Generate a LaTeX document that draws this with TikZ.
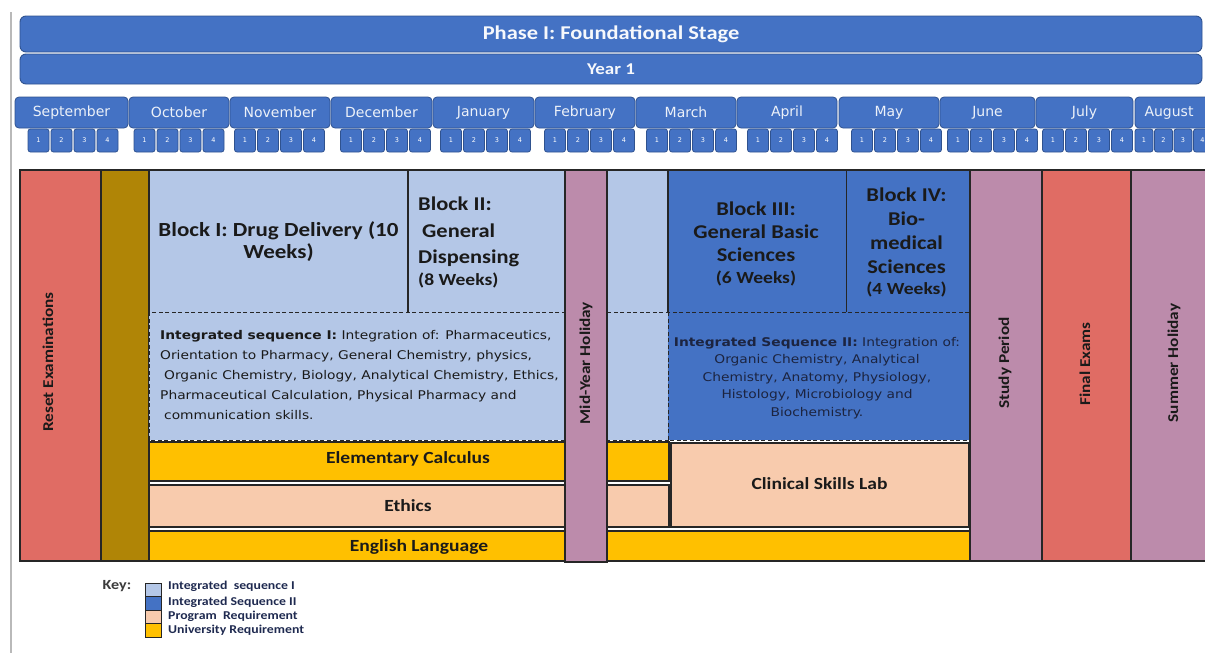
\documentclass[tikz,border=0pt]{standalone}
\usepackage{fontspec}
\setmainfont{Carlito}
\newfontfamily\calfont[FakeStretch=1.15]{Carlito}
\newfontfamily\dvfont{DejaVu Sans}
\newfontfamily\dvxfont[FakeStretch=1.15]{DejaVu Sans}
\newcommand\myfs[2]{\fontsize{#1}{#2}\selectfont}
\definecolor{blueA}{HTML}{4472C4}
\definecolor{barline}{HTML}{2F528F}
\definecolor{lblue}{HTML}{B4C7E7}
\definecolor{peach}{HTML}{F8CBAD}
\definecolor{gold}{HTML}{FFC000}
\definecolor{goldd}{HTML}{B08506}
\definecolor{redc}{HTML}{E06C64}
\definecolor{mauve}{HTML}{BC8BAB}
\definecolor{edge}{HTML}{262626}
\definecolor{ink}{HTML}{1A1A1A}
\definecolor{ink2}{HTML}{1C2440}
\definecolor{navy}{HTML}{1F2A50}
\begin{document}
\begin{tikzpicture}[x=1pt,y=-1pt,
  bar/.style={draw=barline, fill=blueA, rounded corners=6pt, line width=0.9pt, inner sep=0pt, text=white!95!blueA, font=\calfont\bfseries\myfs{19.5}{22}},
  month/.style={draw=barline, fill=blueA, rounded corners=4pt, line width=0.8pt, minimum height=31pt, inner sep=0pt, text=white!90!blueA, font=\dvfont\myfs{14}{16}},
  week/.style={draw=barline, fill=blueA, rounded corners=2.5pt, line width=0.8pt, minimum width=21pt, minimum height=23pt, inner sep=0pt, text=white, font=\dvfont\myfs{6.5}{7}},
  cell/.style={draw=edge, line width=1.1pt},
  seqline/.style={draw=edge, dash pattern=on 4pt off 2.5pt, line width=0.9pt},
  blk/.style={inner sep=0pt, text=ink, font=\calfont\bfseries\myfs{19.5}{23}},
  lbl/.style={inner sep=0pt, text=ink, font=\calfont\bfseries\myfs{17}{19}},
  vlbl/.style={inner sep=0pt, rotate=90, text=ink, font=\calfont\bfseries\myfs{15}{17}},
  seqtxt/.style={inner sep=0pt, text=ink, font=\dvxfont\myfs{12}{20}},
  keybox/.style={draw=edge, line width=0.8pt, minimum width=16pt, minimum height=13.5pt, inner sep=0pt},
  keytxt/.style={inner sep=0pt, anchor=west, text=navy, font=\calfont\bfseries\myfs{12}{12}}]
\useasboundingbox (0,0) rectangle (1205,653);

% left margin line
\draw[gray!55, line width=2pt] (10.5,12) -- (10.5,653);

% header bars
\node[bar, minimum width=1182pt, minimum height=36pt] (phase) at (611,34) {Phase I: Foundational Stage};
\node[bar, minimum width=1182pt, minimum height=30pt, font=\calfont\bfseries\myfs{16.5}{18}] (year) at (611,69) {Year 1};

% months
\node[month, minimum width=113pt] (sep) at (71.5,112.5) {September};
\node[month, minimum width=100pt] (oct) at (179,112.5) {October};
\node[month, minimum width=100pt] (nov) at (280,112.5) {November};
\node[month, minimum width=101pt] (dec) at (381.5,112.5) {December};
\node[month, minimum width=101pt] (jan) at (483.5,112.5) {January};
\node[month, minimum width=100pt] (feb) at (585,112.5) {February};
\node[month, minimum width=100pt] (mar) at (686,112.5) {March};
\node[month, minimum width=100pt] (apr) at (787,112.5) {April};
\node[month, minimum width=100pt] (may) at (889,112.5) {May};
\node[month, minimum width=95pt] (jun) at (987.5,112.5) {June};
\node[month, minimum width=97pt] (jul) at (1084.5,112.5) {July};
\node[month, minimum width=76pt] (aug) at (1173,112.5) {};
\node[inner sep=0pt, text=white!90!blueA, font=\dvfont\myfs{14}{16}] (augt) at (1169,112.5) {August};

% weeks
\foreach \m/\s in {sep/38.5, oct/144.5, nov/245, dec/351, jan/451, feb/555, mar/657, apr/758, may/862, jun/958, jul/1053}{
  \foreach \k in {1,...,4}{
    \node[week] (\m-w\k) at ({\s+(\k-1)*23},140.5) {\k};
  }
}
\foreach \k in {1,...,4}{
  \node[week, minimum width=18pt] (aug-w\k) at ({1144+(\k-1)*19.5},140.5) {\k};
}

% left columns
\draw[cell, fill=redc] (20,170) rectangle (101,561);
\draw[cell, fill=goldd] (101,170) rectangle (149,561);

% integrated sequence I area
\fill[lblue] (149,170) rectangle (668,440);
\draw[cell] (149,312) -- (149,170) -- (668,170);
\draw[cell] (408,170) -- (408,312);
\draw[seqline] (149,312) rectangle (668,440);

% integrated sequence II area
\fill[blueA] (668,170) rectangle (970,440);
\draw[cell] (668,312) -- (668,170) -- (970,170);
\draw[cell, line width=1.7pt] (846.5,170) -- (846.5,312);
\draw[seqline] (668,312) rectangle (970,440);

% bottom rows
\draw[cell, fill=gold] (149,442) rectangle (669,481);
\draw[cell, fill=peach] (149,485) rectangle (669,527);
\draw[cell, fill=peach] (671,443) rectangle (969,527);
\draw[cell, fill=gold] (149,531) rectangle (970,561);

% right columns
\draw[cell, fill=mauve] (970,170) rectangle (1042,561);
\draw[cell, fill=redc] (1042,170) rectangle (1131,561);
\draw[cell, fill=mauve] (1131,170) rectangle (1215,561);

% mid-year holiday
\draw[cell, fill=mauve] (565,170) rectangle (607,562);

% block texts
\node[blk, align=center, font=\calfont\bfseries\myfs{20}{22}] (b1) at (278.5,242) {Block I: Drug Delivery (10\\Weeks)};
\node[blk, align=left, anchor=north west, font=\calfont\bfseries\myfs{19.5}{26.5}] (b2) at (418,197) {Block II:\\\hspace*{4pt}General\\Dispensing\\[-4.5pt]{\myfs{17}{17}(8 Weeks)}};
\node[blk, align=center, anchor=north] (b3) at (756,202) {Block III:\\General Basic\\Sciences\\[-1pt]{\myfs{17}{17}(6 Weeks)}};
\node[blk, align=center, anchor=north, font=\calfont\bfseries\myfs{19.5}{24}] (b4) at (906.5,188) {Block IV:\\Bio-\\medical\\Sciences\\[-3pt]{\myfs{17}{17}(4 Weeks)}};

\node[seqtxt, align=left, anchor=west] (s1) at (160,375) {\textbf{Integrated sequence I:} Integration of: Pharmaceutics,\\Orientation to Pharmacy, General Chemistry, physics,\\\hspace*{4pt}Organic Chemistry, Biology, Analytical Chemistry, Ethics,\\Pharmaceutical Calculation, Physical Pharmacy and\\\hspace*{4pt}communication skills.};
\node[seqtxt, align=center, text=ink2, font=\dvxfont\myfs{12}{17.6}] (s2) at (817,378) {\textbf{Integrated Sequence II:} Integration of:\\Organic Chemistry, Analytical\\Chemistry, Anatomy, Physiology,\\Histology, Microbiology and\\Biochemistry.};

% row labels
\node[lbl] (ec) at (408,459) {Elementary Calculus};
\node[lbl] (eth) at (408,506) {Ethics};
\node[lbl] (eng) at (419,547) {English Language};
\node[lbl] (csl) at (819.5,484) {Clinical Skills Lab};

% vertical labels
\node[vlbl] (re) at (48,362) {Reset Examinations};
\node[vlbl] (my) at (586,363) {Mid-Year Holiday};
\node[vlbl] (sp) at (1005,363) {Study Period};
\node[vlbl] (fe) at (1085,364) {Final Exams};
\node[vlbl] (sh) at (1174,363) {Summer Holiday};

% key
\node[inner sep=0pt, text=ink!85, font=\calfont\bfseries\myfs{14}{14}] (key) at (117,586) {Key:};
\node[keybox, fill=lblue] (k1) at (153,590) {};
\node[keybox, fill=blueA] (k2) at (153,603.5) {};
\node[keybox, fill=peach] (k3) at (153,617) {};
\node[keybox, fill=gold] (k4) at (153,630.5) {};
\node[keytxt] (kt1) at (168,586) {Integrated\ \ sequence I};
\node[keytxt] (kt2) at (168,602) {Integrated Sequence II};
\node[keytxt] (kt3) at (168,616) {Program\ \ Requirement};
\node[keytxt] (kt4) at (168,630) {University Requirement};
\end{tikzpicture}
\end{document}
